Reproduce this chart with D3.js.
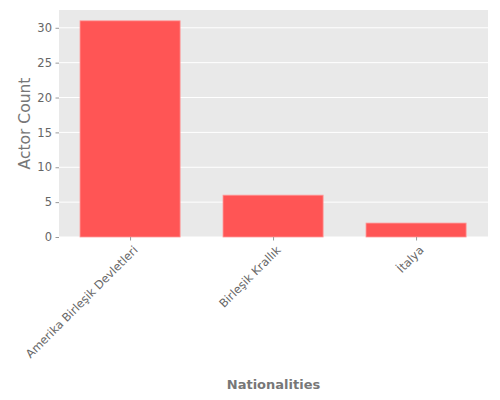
<!DOCTYPE html>
<html>
<head>
<meta charset="utf-8">
<script src="https://cdn.jsdelivr.net/npm/d3@7"></script>
<style>
  body { margin: 0; background: #fff; }
  text { font-family: "DejaVu Sans", sans-serif; }
</style>
</head>
<body>
<svg id="chart" width="500" height="400"></svg>
<script>
// data
var nationalities = ["Amerika Birleşik Devletleri", "Birleşik Krallık", "İtalya"];
var actorCounts = [31, 6, 2];
var yTicks = [0, 5, 10, 15, 20, 25, 30];

var svg = d3.select("#chart");
var pLeft = 59, pRight = 488, pTop = 10, pBottom = 237;

var x = d3.scaleLinear().domain([-0.497, 2.503]).range([pLeft, pRight]);
var y = d3.scaleLinear().domain([0, 32.55]).range([pBottom, pTop]);
var bw = x(0.35) - x(-0.35);

// panel
svg.append("rect")
  .attr("x", pLeft).attr("y", pTop)
  .attr("width", pRight - pLeft).attr("height", pBottom - pTop)
  .attr("fill", "#e9e9e9");

// grid
svg.selectAll(".grid").data(yTicks).enter().append("line")
  .attr("x1", pLeft).attr("x2", pRight)
  .attr("y1", function(d){ return y(d); })
  .attr("y2", function(d){ return y(d); })
  .attr("stroke", "#fff").attr("stroke-width", 1);

// bars
svg.selectAll(".bar").data(actorCounts).enter().append("rect")
  .attr("x", function(d, i){ return x(i) - bw / 2; })
  .attr("y", function(d){ return y(d); })
  .attr("width", bw)
  .attr("height", function(d){ return y(0) - y(d); })
  .attr("fill", "#ff5555")
  .attr("stroke", "#ff9a9a")
  .attr("stroke-width", 0.8);

// y axis
var yAxis = svg.append("g").attr("transform", "translate(" + pLeft + ",0)")
  .call(d3.axisLeft(y).tickValues(yTicks).tickSize(3.5).tickPadding(3.5));
yAxis.select(".domain").remove();
yAxis.selectAll("line").attr("stroke", "#999");
yAxis.selectAll("text").attr("fill", "#666").style("font-size", "11.5px")
  .style("font-family", "DejaVu Sans");

// x axis
var xAxis = svg.append("g").attr("transform", "translate(0," + pBottom + ")")
  .call(d3.axisBottom(x).tickValues([0, 1, 2])
    .tickFormat(function(d){ return nationalities[d]; })
    .tickSize(3.5).tickPadding(3.5));
xAxis.select(".domain").remove();
xAxis.selectAll("line").attr("stroke", "#999");
xAxis.selectAll("text")
  .attr("fill", "#666").style("font-size", "11.5px")
  .style("font-family", "DejaVu Sans")
  .attr("text-anchor", "end")
  .attr("y", 0).attr("dy", "0.35em")
  .attr("transform", "translate(5,11) rotate(-45)");

// axis labels
svg.append("text")
  .attr("x", (pLeft + pRight) / 2).attr("y", 389)
  .attr("text-anchor", "middle")
  .attr("fill", "#777").attr("font-weight", "bold")
  .style("font-size", "13px")
  .text("Nationalities");

svg.append("text")
  .attr("transform", "translate(30," + 123.5 + ") rotate(-90)")
  .attr("text-anchor", "middle")
  .attr("fill", "#777")
  .style("font-size", "15.5px")
  .text("Actor Count");
</script>
</body>
</html>
